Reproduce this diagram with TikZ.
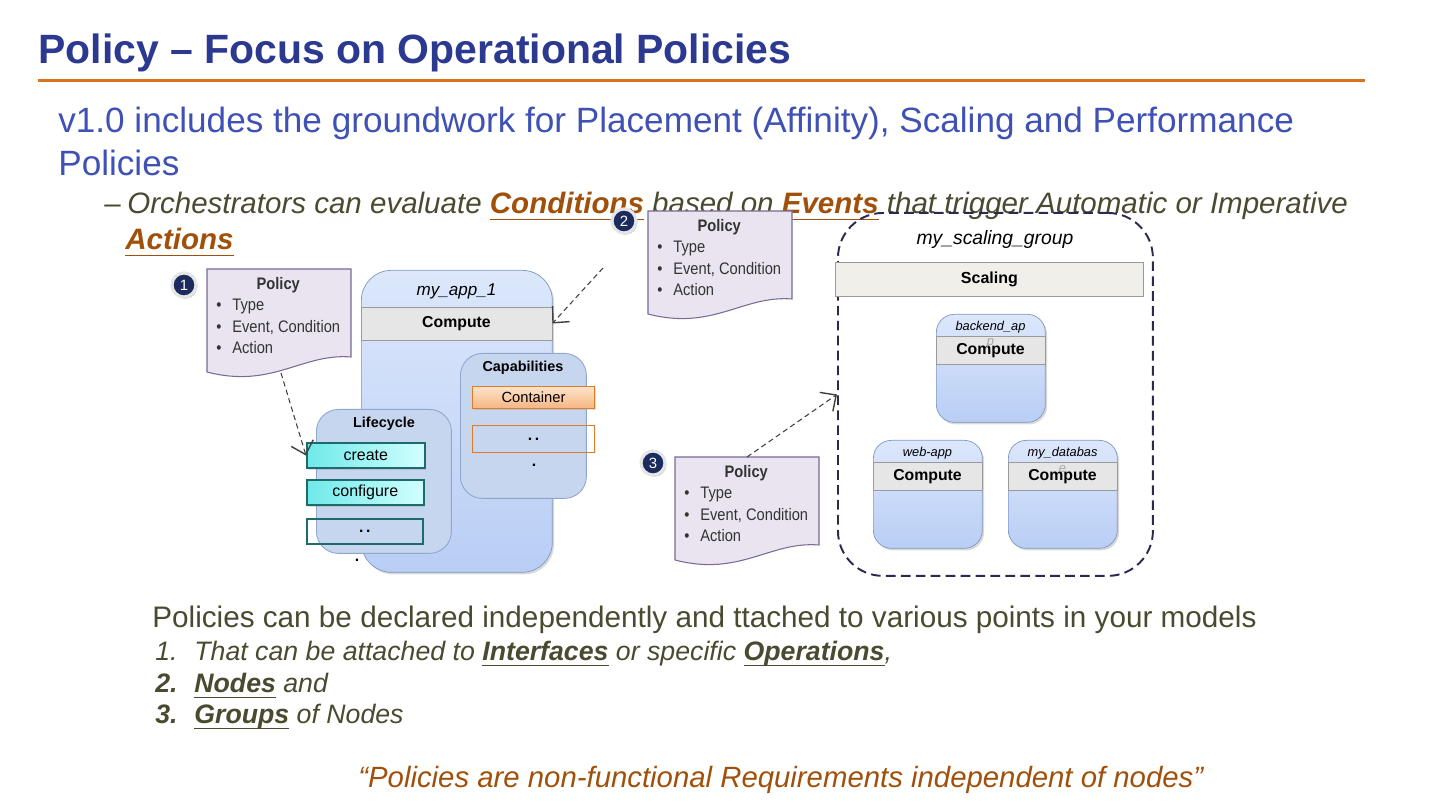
\documentclass[tikz,border=0pt]{standalone}
\usepackage{fontspec}
\setmainfont{Liberation Sans}
\newfontfamily\narrowfont[FakeStretch=0.88]{Liberation Sans}
\usetikzlibrary{arrows.meta,shadows}

\definecolor{titleblue}{HTML}{2B3990}
\definecolor{bodyblue}{HTML}{3F51B5}
\definecolor{ruleorange}{HTML}{D9731F}
\definecolor{olive}{HTML}{4A4A30}
\definecolor{keybrown}{HTML}{A0500A}
\definecolor{docfill}{HTML}{EAE4F0}
\definecolor{docline}{HTML}{7B6A93}
\definecolor{badgeblue}{HTML}{1C2B5E}
\definecolor{bluetop}{HTML}{DCE7FB}
\definecolor{bluebot}{HTML}{B9CEF5}
\definecolor{blueline}{HTML}{7F98C4}
\definecolor{innerfill}{HTML}{C7D6EF}
\definecolor{innerline}{HTML}{8FA6CF}
\definecolor{bandfill}{HTML}{E6E6E6}
\definecolor{bandline}{HTML}{9A9A9A}
\definecolor{orangetop}{HTML}{FCE3CA}
\definecolor{orangebot}{HTML}{F6B680}
\definecolor{orangeline}{HTML}{E07B2A}
\definecolor{cyanleft}{HTML}{6FE9E9}
\definecolor{cyanright}{HTML}{D2FFFF}
\definecolor{tealline}{HTML}{1E6B6B}
\definecolor{groupline}{HTML}{2A2A50}
\definecolor{scalefill}{HTML}{F0EFEA}

% underline at a fixed depth below the baseline
\newcommand{\keyword}[1]{\textcolor{keybrown}{\bfseries\underline{\smash{#1}\rule[-1.8pt]{0pt}{0pt}}}}
\newcommand{\keyterm}[1]{{\bfseries\underline{\smash{#1}\rule[-1.8pt]{0pt}{0pt}}}}

% policy document: name, left x, top y
\newcommand{\policydoc}[3]{%
  \begin{scope}[shift={(#2,#3)}]
    \draw[docshape] (0,0) -- (144,0) -- (144,88) .. controls (95,84) and (65,120) .. (0,103) -- cycle;
    \coordinate (#1-top) at (72,0);
    \coordinate (#1-bot) at (74,104);
    \node[doctext, anchor=north west] (#1) at (9,5) {%
      \begin{tabular}{@{}p{0.32cm}@{}l@{}}
        \multicolumn{2}{c}{\bfseries Policy}\\
        \textbullet & Type\\
        \textbullet & Event, Condition\\
        \textbullet & Action
      \end{tabular}};
  \end{scope}}

% small compute node: name, left x, top y, title, wrapped rest
\newcommand{\computenode}[5]{%
  \begin{scope}[shift={(#2,#3)}]
    \node[nodebox, anchor=north west] (#1) at (0,0) {};
    \node[nodetitle] (#1-name) at (54.5,13) {#4};
    \node[band, minimum width=2.18cm, minimum height=0.57cm] (#1-comp) at (54.5,36.5) {Compute};
    \node[nodetitle, text=gray!70] (#1-rest) at (54.5,29) {#5};
  \end{scope}}

\begin{document}
\begin{tikzpicture}[x=0.02cm, y=-0.02cm,
  slidetitle/.style={anchor=base west, inner sep=0, text=titleblue, font=\bfseries\fontsize{23.3}{28}\selectfont},
  bodytext/.style={anchor=base west, inner sep=0, text=bodyblue, font=\fontsize{20}{24}\selectfont},
  subtext/.style={anchor=base west, inner sep=0, text=olive, font=\itshape\fontsize{16.8}{20}\selectfont},
  notetext/.style={anchor=base west, inner sep=0, text=olive, font=\fontsize{16.9}{20}\selectfont},
  listtext/.style={anchor=base west, inner sep=0, text=olive, font=\itshape\fontsize{15.2}{18}\selectfont},
  quotetext/.style={anchor=base west, inner sep=0, text=keybrown, font=\itshape\fontsize{16.7}{20}\selectfont},
  docshape/.style={fill=docfill, draw=docline, line width=0.6pt},
  doctext/.style={inner sep=0, text=black!80, font=\narrowfont\fontsize{9.5}{12.2}\selectfont},
  badge/.style={circle, fill=badgeblue, draw=gray!20, line width=1.8pt, minimum size=0.48cm, inner sep=0,
    text=white, font=\fontsize{8.5}{10}\selectfont, drop shadow={shadow xshift=0.8pt, shadow yshift=-1pt, opacity=0.4}},
  appbox/.style={draw=blueline, rounded corners=0.6cm, top color=bluetop, bottom color=bluebot,
    drop shadow={shadow xshift=1pt, shadow yshift=-1.2pt, opacity=0.3}},
  nodebox/.style={draw=blueline, rounded corners=0.36cm, top color=bluetop, bottom color=bluebot,
    minimum width=2.18cm, minimum height=2.16cm, inner sep=0,
    drop shadow={shadow xshift=1pt, shadow yshift=-1.2pt, opacity=0.3}},
  apptitle/.style={inner sep=0, font=\itshape\fontsize{9.7}{11}\selectfont},
  nodetitle/.style={inner sep=0, font=\itshape\fontsize{7.3}{9}\selectfont},
  band/.style={fill=bandfill, draw=bandline, line width=0.4pt, inner sep=0, font=\bfseries\fontsize{9}{11}\selectfont},
  innerbox/.style={fill=innerfill, draw=innerline, line width=0.5pt, rounded corners=0.44cm, inner sep=0},
  innertitle/.style={inner sep=0, font=\bfseries\fontsize{8.2}{10}\selectfont},
  capbox/.style={draw=orangeline, line width=0.6pt, top color=orangetop, bottom color=orangebot, inner sep=0,
    minimum width=2.44cm, minimum height=0.44cm, font=\fontsize{8.4}{10}\selectfont,
    drop shadow={shadow xshift=0.8pt, shadow yshift=-0.8pt, opacity=0.25}},
  emptycap/.style={draw=orangeline, line width=0.6pt, inner sep=0, minimum width=2.44cm, minimum height=0.54cm,
    font=\bfseries\fontsize{9}{11}\selectfont},
  opbox/.style={draw=tealline, line width=0.9pt, left color=cyanleft, right color=cyanright, inner sep=0,
    minimum height=0.51cm, font=\fontsize{9.1}{11}\selectfont,
    drop shadow={shadow xshift=0.8pt, shadow yshift=-0.8pt, opacity=0.25}},
  emptyop/.style={draw=tealline, line width=0.9pt, inner sep=0, minimum height=0.51cm,
    font=\bfseries\fontsize{9}{11}\selectfont},
  dotmark/.style={inner sep=0, font=\bfseries\fontsize{9}{11}\selectfont},
  groupbox/.style={draw=groupline, line width=1.1pt, dash pattern=on 5.5pt off 3pt, rounded corners=0.9cm, inner sep=0},
  grouptitle/.style={inner sep=0, font=\itshape\fontsize{11}{13}\selectfont},
  scaleband/.style={fill=scalefill, draw=bandline, line width=0.5pt, inner sep=0,
    font=\bfseries\fontsize{9.1}{11}\selectfont},
  attach/.style={-{Straight Barb[length=2.4mm, width=4.6mm, line width=0.8pt]}, densely dashed, line width=0.6pt, draw=black!75}]

\useasboundingbox (0,0) rectangle (1440,810);

% heading
\node[slidetitle] (heading) at (38,64) {Policy – Focus on Operational Policies};
\draw[ruleorange, line width=1.7pt] (38,80.5) -- (1365,80.5);
\node[bodytext] (intro) at (58,133) {v1.0 includes the groundwork for Placement (Affinity), Scaling and Performance};
\node[bodytext] (intro2) at (58,176) {Policies};
\node[subtext] (orch) at (104,214) {\makebox[0.46cm][l]{–}Orchestrators can evaluate \keyword{Conditions} based on \keyword{Events} that trigger Automatic or Imperative};
\node[subtext] (orch2) at (125,250) {\keyword{Actions}};

% my_app_1
\node[appbox, minimum width=3.82cm, minimum height=6.04cm, anchor=north west] (app1) at (361,270) {};
\node[apptitle] (app1name) at (456.5,291) {my\_app\_1};
\node[band, minimum width=3.82cm, minimum height=0.66cm] (app1comp) at (456.5,323.5) {Compute};

\node[innerbox, minimum width=2.52cm, minimum height=2.9cm, anchor=north west] (caps) at (460,353) {};
\node[innertitle] (capsname) at (523,368) {Capabilities};
\node[capbox, anchor=north west] (container) at (472,386) {Container};
\node[emptycap, anchor=north west] (capmore) at (472,425) {.\,.};
\node[dotmark] (capdot) at (534,465) {.};

\node[innerbox, minimum width=2.7cm, minimum height=2.88cm, anchor=north west] (life) at (316,409) {};
\node[innertitle] (lifename) at (384,424) {Lifecycle};
\node[opbox, minimum width=2.36cm, anchor=north west] (create) at (306,442) {create};
\node[opbox, minimum width=2.34cm, anchor=north west] (configure) at (306,479) {configure};
\node[emptyop, minimum width=2.32cm, anchor=north west] (lifemore) at (306,518) {.\,.};
\node[dotmark] (lifedot) at (357,560) {.};

% policies
\policydoc{pol1}{207}{269}
\policydoc{pol2}{648}{211}
\policydoc{pol3}{675}{457}
\node[badge] (badge1) at (184,285) {1};
\node[badge] (badge2) at (624,221) {2};
\node[badge] (badge3) at (653,463) {3};

% scaling group
\node[groupbox, minimum width=6.3cm, minimum height=7.26cm, anchor=north west] (group) at (837,212) {};
\node[grouptitle] (groupname) at (995,240) {my\_scaling\_group};
\node[scaleband, minimum width=6.16cm, minimum height=0.68cm, anchor=north west] (scaling) at (835,262) {Scaling};
\computenode{backend}{936}{314}{backend\_ap}{p}
\computenode{webapp}{873}{440}{web-app}{}
\computenode{database}{1008}{440}{my\_databas}{e}

% attachments
\coordinate (feed2) at (603,268);
\draw[attach] (pol1-bot) -- (create.west);
\draw[attach] (feed2) -- (app1comp.east);
\draw[attach] (pol3-top) -- (group.west);

% notes
\node[notetext] (declared) at (152,627) {Policies can be declared independently and ttached to various points in your models};
\node[listtext] (item1) at (155,660) {\makebox[0.78cm][l]{1.}That can be attached to \keyterm{Interfaces} or specific \keyterm{Operations},};
\node[listtext] (item2) at (155,692) {\makebox[0.78cm][l]{\bfseries 2.}\keyterm{Nodes} and};
\node[listtext] (item3) at (155,723) {\makebox[0.78cm][l]{\bfseries 3.}\keyterm{Groups} of Nodes};
\node[quotetext] (quote) at (358,787) {“Policies are non-functional Requirements independent of nodes”};
\end{tikzpicture}
\end{document}
